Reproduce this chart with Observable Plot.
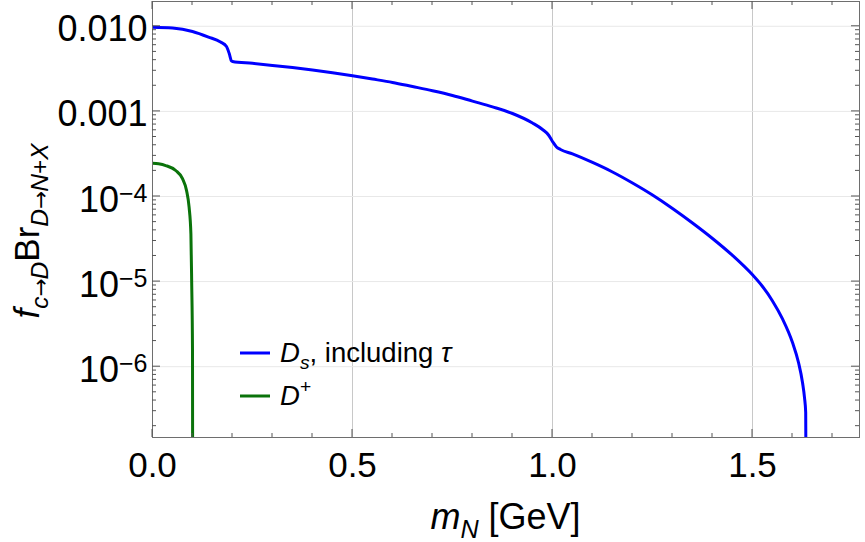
<!DOCTYPE html>
<html><head><meta charset="utf-8">
<script src="https://cdn.jsdelivr.net/npm/d3@7"></script>
<script src="https://cdn.jsdelivr.net/npm/@observablehq/plot@0.6"></script>
<style>
body{margin:0;background:#fff;}
#chart svg{font-family:"Liberation Sans",Arial,sans-serif;}
</style>
</head><body><div id="chart"></div>
<script>
// ---- data ----
const seriesNames = ["Ds", "Dplus"];
const seriesColors = ["#0000ff", "#0a730a"];

const mN_Ds = [0, 0.05, 0.1, 0.14, 0.17, 0.185, 0.192, 0.1975, 0.2, 0.25, 0.3, 0.35, 0.4, 0.45, 0.5, 0.55, 0.6, 0.65, 0.7, 0.75, 0.8, 0.85, 0.9, 0.95, 0.975, 0.99, 1.0, 1.01, 1.02, 1.05, 1.1, 1.15, 1.2, 1.25, 1.3, 1.35, 1.4, 1.45, 1.5, 1.525, 1.55, 1.575, 1.6, 1.615, 1.625, 1.63, 1.633, 1.6355];
const br_Ds = [9.76e-3, 9.55e-3, 8.69e-3, 7.48e-3, 6.54e-3, 5.79e-3, 4.75e-3, 3.91e-3, 3.86e-3, 3.67e-3, 3.47e-3, 3.27e-3, 3.06e-3, 2.84e-3, 2.62e-3, 2.40e-3, 2.19e-3, 1.96e-3, 1.75e-3, 1.54e-3, 1.32e-3, 1.13e-3, 9.45e-4, 7.31e-4, 6.13e-4, 5.28e-4, 4.43e-4, 3.82e-4, 3.57e-4, 3.16e-4, 2.51e-4, 1.94e-4, 1.44e-4, 1.04e-4, 7.23e-5, 4.88e-5, 3.21e-5, 2.03e-5, 1.20e-5, 8.76e-6, 5.92e-6, 3.64e-6, 1.92e-6, 1.12e-6, 6.52e-7, 4.34e-7, 2.90e-7, 1e-9];

const mN_Dp = [0, 0.015, 0.033, 0.058, 0.075, 0.085, 0.0915, 0.096, 0.098, 0.1, 0.1008];
const br_Dp = [2.46e-4, 2.42e-4, 2.31e-4, 2.02e-4, 1.62e-4, 1.18e-4, 7.48e-5, 3.64e-5, 9.5e-6, 1.55e-6, 1e-9];

const xMajorTicks = [0, 0.5, 1.0, 1.5];
const xTickLabels = ["0.0", "0.5", "1.0", "1.5"];
const xMinorTicks = [0.1, 0.2, 0.3, 0.4, 0.6, 0.7, 0.8, 0.9, 1.1, 1.2, 1.3, 1.4, 1.6, 1.7];
const yMajorTicks = [1e-2, 1e-3, 1e-4, 1e-5, 1e-6];
const yTickLabels = ["0.010", "0.001", "10^-4", "10^-5", "10^-6"];
const yMinorMantissas = [2, 3, 4, 5, 6, 7, 8, 9];
const yMinorExponents = [-7, -6, -5, -4, -3, -2];

// legend / axis label rich text
const legendLabels = [
  [{t: "D", i: true}, {t: "s", i: true, sub: true}, {t: ", including "}, {t: "τ", i: true}],
  [{t: "D", i: true}, {t: "+", sup: true}]
];
const yLabelParts = [{t: "f", i: true}, {t: "c", i: true, sub: true}, {t: "→", sub: true, arrow: true}, {t: "D", i: true, sub: true},
  {t: "Br"}, {t: "D", i: true, sub: true}, {t: "→", sub: true, arrow: true}, {t: "N", i: true, sub: true}, {t: "+", sub: true}, {t: "X", i: true, sub: true}];
const xLabelParts = [{t: "m", i: true}, {t: "N", i: true, sub: true}, {t: " [GeV]"}];

// ---- build table ----
const rows = [
  ...mN_Ds.map((m, i) => ({m, br: br_Ds[i], series: seriesNames[0]})),
  ...mN_Dp.map((m, i) => ({m, br: br_Dp[i], series: seriesNames[1]}))
];
const yMinorTicks = [];
for (const e of yMinorExponents) for (const k of yMinorMantissas) yMinorTicks.push(k * Math.pow(10, e));

const W = 865, H = 542;
const mL = 152, mR = 6, mT = 1, mB = 105;
const xDomain = [0, 1.7675];
const yDomain = [1.472e-7, 0.01956];
const tickStroke = "#555";
const frameStroke = "#6e6e6e";

const chart = Plot.plot({
  width: W, height: H,
  marginLeft: mL, marginRight: mR, marginTop: mT, marginBottom: mB,
  style: {fontFamily: "Liberation Sans, Arial, sans-serif", fontSize: "35px", background: "#fff", color: "#000"},
  x: {domain: xDomain},
  y: {type: "log", domain: yDomain},
  color: {domain: seriesNames, range: seriesColors},
  marks: [
    Plot.gridX(xMajorTicks.slice(1), {stroke: "#c8c8c8", strokeOpacity: 1, strokeWidth: 1}),
    Plot.gridY(yMajorTicks, {stroke: "#e8e8e8", strokeOpacity: 1, strokeWidth: 1}),
    Plot.line(rows, {x: "m", y: "br", z: "series", stroke: "series", strokeWidth: 3, curve: "monotone-x", clip: true}),
    Plot.frame({stroke: frameStroke}),
    Plot.axisX(xMajorTicks, {anchor: "bottom", tickSize: 0, tickPadding: 15, label: null, fontSize: 35, fill: "#000",
      tickFormat: d => xTickLabels[xMajorTicks.indexOf(d)]}),
    Plot.axisY(yMajorTicks, {anchor: "left", tickSize: 0, tickPadding: 5, dy: 3.5, label: null, fontSize: 36, fill: "#000",
      tickFormat: d => yTickLabels[yMajorTicks.indexOf(d)]})
  ]
});
document.getElementById("chart").appendChild(chart);

const svg = d3.select(chart);
const sx = chart.scale("x"), sy = chart.scale("y");

// inward-pointing frame ticks on all four sides, positioned through Plot's own scales
const tg = svg.append("g").attr("stroke", tickStroke).attr("stroke-width", 1);
const x0 = sx.apply(xDomain[0]), x1 = sx.apply(xDomain[1]);
const y0 = sy.apply(yDomain[0]), y1 = sy.apply(yDomain[1]);
for (const [ticks, len] of [[xMajorTicks, 8], [xMinorTicks, 4]]) {
  for (const v of ticks) {
    const px = sx.apply(v);
    tg.append("line").attr("x1", px).attr("x2", px).attr("y1", y0).attr("y2", y0 - len);
    tg.append("line").attr("x1", px).attr("x2", px).attr("y1", y1).attr("y2", y1 + len);
  }
}
for (const [ticks, len] of [[yMajorTicks, 8], [yMinorTicks.filter(v => v > yDomain[0] && v < yDomain[1]), 4]]) {
  for (const v of ticks) {
    const py = sy.apply(v);
    tg.append("line").attr("x1", x0).attr("x2", x0 + len).attr("y1", py).attr("y2", py);
    tg.append("line").attr("x1", x1).attr("x2", x1 - len).attr("y1", py).attr("y2", py);
  }
}

// superscript powers of ten in tick labels
svg.selectAll("text").each(function () {
  const m = /^10\^(-?\d+)$/.exec(this.textContent);
  if (m) {
    const s = d3.select(this);
    s.text(null);
    s.append("tspan").text("10");
    s.append("tspan").attr("dy", -10).attr("font-size", 25).text(m[1].replace("-", "−"));
  }
});

function rich(sel, parts, size) {
  let cur = 0;
  for (const p of parts) {
    const target = p.sub ? size * 0.26 : p.sup ? -size * 0.42 : 0;
    const ts = sel.append("tspan").text(p.t).attr("dy", target - cur);
    if (p.sub || p.sup) ts.attr("font-size", size * 0.7);
    if (p.arrow) ts.attr("font-family", "DejaVu Sans").attr("font-size", size * 0.62).attr("letter-spacing", -1);
    if (p.i) ts.attr("font-style", "italic");
    cur = target;
  }
}

// axis labels
const xl = svg.append("text").attr("x", (mL + W - mR) / 2).attr("y", 529)
  .attr("text-anchor", "middle").attr("font-size", 36).attr("fill", "#000");
rich(xl, xLabelParts, 36);

const yl = svg.append("text").attr("transform", `translate(39,${(mT + H - mB) / 2 + 12}) rotate(-90)`)
  .attr("text-anchor", "middle").attr("font-size", 35).attr("fill", "#000");
rich(yl, yLabelParts, 35);

// legend
const legendY = [353, 396];
legendLabels.forEach((parts, i) => {
  const g = svg.append("g");
  g.append("line").attr("x1", 240).attr("x2", 270).attr("y1", legendY[i]).attr("y2", legendY[i])
    .attr("stroke", seriesColors[i]).attr("stroke-width", 3);
  const t = g.append("text").attr("x", 280).attr("y", legendY[i] + 8.5).attr("text-anchor", "start")
    .attr("font-size", 27.5).attr("fill", "#000");
  rich(t, parts, 27.5);
});
</script>
</body></html>
